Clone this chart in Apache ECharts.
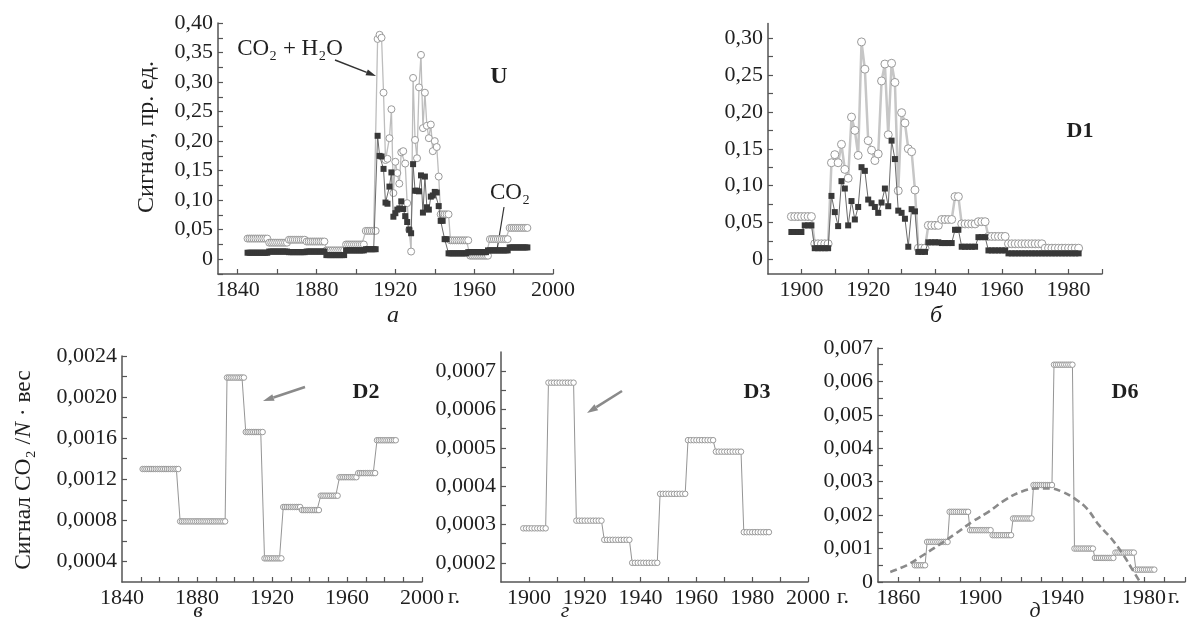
<!DOCTYPE html>
<html>
<head>
<meta charset="utf-8">
<script src="https://cdn.jsdelivr.net/npm/echarts@6/dist/echarts.min.js"></script>
<style>
  html, body { margin: 0; padding: 0; background: #fff; }
  #chart { width: 1199px; height: 626px; }
</style>
</head>
<body>
<div id="chart"></div>
<script>
// ---- panel a (U): CO2 + H2O (circles) and CO2 (squares), yearly from 1845
const uStart = 1845;
const uWet = [
  0.035, 0.035, 0.035, 0.035, 0.035, 0.035, 0.035, 0.035, 0.035, 0.035, 0.035,
  0.028, 0.028, 0.028, 0.028, 0.028, 0.028, 0.028, 0.028, 0.028, 0.028,
  0.033, 0.033, 0.033, 0.033, 0.033, 0.033, 0.033, 0.033, 0.033,
  0.030, 0.030, 0.030, 0.030, 0.030, 0.030, 0.030, 0.030, 0.030, 0.030,
  0.015, 0.015, 0.015, 0.015, 0.015, 0.015, 0.015, 0.015, 0.015, 0.015,
  0.025, 0.025, 0.025, 0.025, 0.025, 0.025, 0.025, 0.025, 0.025, 0.025,
  0.048, 0.048, 0.048, 0.048, 0.048, 0.048,
  0.373, 0.380, 0.375, 0.282, 0.168, 0.170, 0.205, 0.254, 0.112, 0.165,
  0.146, 0.128, 0.181, 0.183, 0.162, 0.095, 0.050, 0.013, 0.307, 0.202,
  0.171, 0.291, 0.346, 0.222, 0.282, 0.226, 0.205, 0.228, 0.183, 0.200,
  0.190, 0.140, 0.076,
  0.076, 0.076, 0.076, 0.076,
  0.032, 0.032, 0.032, 0.032, 0.032, 0.032, 0.032, 0.032, 0.032, 0.032,
  0.006, 0.006, 0.006, 0.006, 0.006, 0.006, 0.006, 0.006, 0.006, 0.006,
  0.034, 0.034, 0.034, 0.034, 0.034, 0.034, 0.034, 0.034, 0.034, 0.034,
  0.053, 0.053, 0.053, 0.053, 0.053, 0.053, 0.053, 0.053, 0.053, 0.053
];
const uDry = [
  0.011, 0.011, 0.011, 0.011, 0.011, 0.011, 0.011, 0.011, 0.011, 0.011, 0.011,
  0.013, 0.013, 0.013, 0.013, 0.013, 0.013, 0.013, 0.013, 0.013, 0.013,
  0.012, 0.012, 0.012, 0.012, 0.012, 0.012, 0.012, 0.012, 0.012,
  0.013, 0.013, 0.013, 0.013, 0.013, 0.013, 0.013, 0.013, 0.013, 0.013,
  0.007, 0.007, 0.007, 0.007, 0.007, 0.007, 0.007, 0.007, 0.007, 0.007,
  0.015, 0.015, 0.015, 0.015, 0.015, 0.015, 0.015, 0.015, 0.015, 0.015,
  0.017, 0.017, 0.017, 0.017, 0.017, 0.017,
  0.209, 0.175, 0.174, 0.153, 0.096, 0.094, 0.123, 0.147, 0.072, 0.078,
  0.084, 0.086, 0.098, 0.085, 0.073, 0.063, 0.050, 0.044, 0.161, 0.116,
  0.116, 0.115, 0.142, 0.079, 0.140, 0.088, 0.084, 0.106, 0.108, 0.114,
  0.113, 0.090, 0.065, 0.065, 0.034, 0.034,
  0.010, 0.010, 0.010, 0.010, 0.010, 0.010, 0.010, 0.010, 0.010, 0.010,
  0.012, 0.012, 0.012, 0.012, 0.012, 0.012, 0.012, 0.012, 0.012, 0.012,
  0.015, 0.015, 0.015, 0.015, 0.015, 0.015, 0.015, 0.015, 0.015, 0.015, 0.015,
  0.020, 0.020, 0.020, 0.020, 0.020, 0.020, 0.020, 0.020, 0.020, 0.020
];

// ---- panel б (D1), yearly from 1897
const d1Start = 1897;
const d1Wet = [
  0.058, 0.058, 0.058, 0.058, 0.058, 0.058, 0.058,
  0.021, 0.021, 0.021, 0.021, 0.021,
  0.131, 0.142, 0.131, 0.156, 0.122, 0.110, 0.193, 0.175, 0.141, 0.295,
  0.258, 0.161, 0.148, 0.134, 0.143, 0.242, 0.265, 0.169, 0.266, 0.240,
  0.093, 0.199, 0.185, 0.150, 0.146, 0.094,
  0.015, 0.015, 0.015,
  0.046, 0.046, 0.046, 0.046,
  0.054, 0.054, 0.054, 0.054,
  0.085, 0.085,
  0.048, 0.048, 0.048, 0.048, 0.048,
  0.051, 0.051, 0.051,
  0.031, 0.031, 0.031, 0.031, 0.031, 0.031,
  0.021, 0.021, 0.021, 0.021, 0.021, 0.021, 0.021, 0.021, 0.021, 0.021, 0.021,
  0.015, 0.015, 0.015, 0.015, 0.015, 0.015, 0.015, 0.015, 0.015, 0.015, 0.015
];
const d1Dry = [
  0.037, 0.037, 0.037, 0.037,
  0.046, 0.046, 0.046,
  0.015, 0.015, 0.015, 0.015, 0.015,
  0.086, 0.064, 0.045, 0.106, 0.096, 0.046, 0.079, 0.054, 0.071, 0.125,
  0.120, 0.081, 0.076, 0.071, 0.063, 0.077, 0.096, 0.072, 0.161, 0.136,
  0.066, 0.063, 0.055, 0.017, 0.068, 0.065,
  0.010, 0.010, 0.010,
  0.023, 0.023, 0.023, 0.023,
  0.022, 0.022, 0.022, 0.022,
  0.040, 0.040,
  0.017, 0.017, 0.017, 0.017, 0.017,
  0.030, 0.030, 0.030,
  0.012, 0.012, 0.012, 0.012, 0.012, 0.012,
  0.008, 0.008, 0.008, 0.008, 0.008, 0.008, 0.008, 0.008, 0.008, 0.008, 0.008,
  0.008, 0.008, 0.008, 0.008, 0.008, 0.008, 0.008, 0.008, 0.008, 0.008, 0.008
];

// ---- panel в (D2), yearly from 1851
const d2Start = 1851;
const d2Vals = [
  0.0013, 0.0013, 0.0013, 0.0013, 0.0013, 0.0013, 0.0013, 0.0013, 0.0013, 0.0013,
  0.0013, 0.0013, 0.0013, 0.0013, 0.0013, 0.0013, 0.0013, 0.0013, 0.0013, 0.0013,
  0.00079, 0.00079, 0.00079, 0.00079, 0.00079, 0.00079, 0.00079, 0.00079, 0.00079, 0.00079,
  0.00079, 0.00079, 0.00079, 0.00079, 0.00079, 0.00079, 0.00079, 0.00079, 0.00079, 0.00079,
  0.00079, 0.00079, 0.00079, 0.00079, 0.00079,
  0.00219, 0.00219, 0.00219, 0.00219, 0.00219, 0.00219, 0.00219, 0.00219, 0.00219, 0.00219,
  0.00166, 0.00166, 0.00166, 0.00166, 0.00166, 0.00166, 0.00166, 0.00166, 0.00166, 0.00166,
  0.00043, 0.00043, 0.00043, 0.00043, 0.00043, 0.00043, 0.00043, 0.00043, 0.00043, 0.00043,
  0.00093, 0.00093, 0.00093, 0.00093, 0.00093, 0.00093, 0.00093, 0.00093, 0.00093, 0.00093,
  0.0009, 0.0009, 0.0009, 0.0009, 0.0009, 0.0009, 0.0009, 0.0009, 0.0009, 0.0009,
  0.00104, 0.00104, 0.00104, 0.00104, 0.00104, 0.00104, 0.00104, 0.00104, 0.00104, 0.00104,
  0.00122, 0.00122, 0.00122, 0.00122, 0.00122, 0.00122, 0.00122, 0.00122, 0.00122, 0.00122,
  0.00126, 0.00126, 0.00126, 0.00126, 0.00126, 0.00126, 0.00126, 0.00126, 0.00126, 0.00126,
  0.00158, 0.00158, 0.00158, 0.00158, 0.00158, 0.00158, 0.00158, 0.00158, 0.00158, 0.00158, 0.00158
];

// ---- panel г (D3), yearly from 1898
const d3Start = 1898;
const d3Vals = [
  0.00029, 0.00029, 0.00029, 0.00029, 0.00029, 0.00029, 0.00029, 0.00029, 0.00029,
  0.00067, 0.00067, 0.00067, 0.00067, 0.00067, 0.00067, 0.00067, 0.00067, 0.00067, 0.00067,
  0.00031, 0.00031, 0.00031, 0.00031, 0.00031, 0.00031, 0.00031, 0.00031, 0.00031, 0.00031,
  0.00026, 0.00026, 0.00026, 0.00026, 0.00026, 0.00026, 0.00026, 0.00026, 0.00026, 0.00026,
  0.0002, 0.0002, 0.0002, 0.0002, 0.0002, 0.0002, 0.0002, 0.0002, 0.0002, 0.0002,
  0.00038, 0.00038, 0.00038, 0.00038, 0.00038, 0.00038, 0.00038, 0.00038, 0.00038, 0.00038,
  0.00052, 0.00052, 0.00052, 0.00052, 0.00052, 0.00052, 0.00052, 0.00052, 0.00052, 0.00052,
  0.00049, 0.00049, 0.00049, 0.00049, 0.00049, 0.00049, 0.00049, 0.00049, 0.00049, 0.00049,
  0.00028, 0.00028, 0.00028, 0.00028, 0.00028, 0.00028, 0.00028, 0.00028, 0.00028, 0.00028
];

// ---- panel д (D6), yearly from 1868, plus the dashed trend
const d6Start = 1868;
const d6Vals = [
  0.0005, 0.0005, 0.0005, 0.0005, 0.0005, 0.0005,
  0.0012, 0.0012, 0.0012, 0.0012, 0.0012, 0.0012, 0.0012, 0.0012, 0.0012, 0.0012, 0.0012,
  0.0021, 0.0021, 0.0021, 0.0021, 0.0021, 0.0021, 0.0021, 0.0021, 0.0021, 0.0021,
  0.00155, 0.00155, 0.00155, 0.00155, 0.00155, 0.00155, 0.00155, 0.00155, 0.00155, 0.00155, 0.00155,
  0.0014, 0.0014, 0.0014, 0.0014, 0.0014, 0.0014, 0.0014, 0.0014, 0.0014, 0.0014,
  0.0019, 0.0019, 0.0019, 0.0019, 0.0019, 0.0019, 0.0019, 0.0019, 0.0019, 0.0019,
  0.0029, 0.0029, 0.0029, 0.0029, 0.0029, 0.0029, 0.0029, 0.0029, 0.0029, 0.0029,
  0.0065, 0.0065, 0.0065, 0.0065, 0.0065, 0.0065, 0.0065, 0.0065, 0.0065, 0.0065,
  0.001, 0.001, 0.001, 0.001, 0.001, 0.001, 0.001, 0.001, 0.001, 0.001,
  0.00072, 0.00072, 0.00072, 0.00072, 0.00072, 0.00072, 0.00072, 0.00072, 0.00072, 0.00072,
  0.00088, 0.00088, 0.00088, 0.00088, 0.00088, 0.00088, 0.00088, 0.00088, 0.00088, 0.00088,
  0.00037, 0.00037, 0.00037, 0.00037, 0.00037, 0.00037, 0.00037, 0.00037, 0.00037, 0.00037
];
const d6TrendYears = [1856, 1864, 1872, 1880, 1888, 1896, 1904, 1912, 1920, 1928, 1934, 1940, 1946, 1952, 1958, 1964, 1970, 1974, 1978];
const d6TrendVals = [0.0003, 0.0005, 0.0008, 0.00112, 0.00145, 0.0018, 0.0021, 0.00245, 0.0027, 0.0028, 0.0028, 0.0027, 0.0025, 0.0022, 0.0017, 0.0013, 0.0008, 0.0004, 0.0];

// ---- tick positions and labels
const aXTicks = [1840, 1860, 1880, 1900, 1920, 1940, 1960, 1980, 2000];
const aXLabels = [1840, 1880, 1920, 1960, 2000];
const aYTicks = [-0.025, 0, 0.025, 0.05, 0.075, 0.1, 0.125, 0.15, 0.175, 0.2, 0.225, 0.25, 0.275, 0.3, 0.325, 0.35, 0.375, 0.4];
const aYLabels = [0, 0.05, 0.1, 0.15, 0.2, 0.25, 0.3, 0.35, 0.4];
const bXTicks = [1900, 1910, 1920, 1930, 1940, 1950, 1960, 1970, 1980, 1990];
const bXLabels = [1900, 1920, 1940, 1960, 1980];
const bYTicks = [0, 0.025, 0.05, 0.075, 0.1, 0.125, 0.15, 0.175, 0.2, 0.225, 0.25, 0.275, 0.3];
const bYLabels = [0, 0.05, 0.1, 0.15, 0.2, 0.25, 0.3];
const cXTicks = [1850, 1860, 1870, 1880, 1890, 1900, 1910, 1920, 1930, 1940, 1950, 1960, 1970, 1980, 1990, 2000];
const cXLabels = [1840, 1880, 1920, 1960, 2000];
const cYTicks = [0.0004, 0.0006, 0.0008, 0.001, 0.0012, 0.0014, 0.0016, 0.0018, 0.002, 0.0022, 0.0024];
const cYLabels = [0.0004, 0.0008, 0.0012, 0.0016, 0.002, 0.0024];
const dXTicks = [1900, 1910, 1920, 1930, 1940, 1950, 1960, 1970, 1980, 1990, 2000];
const dXLabels = [1900, 1920, 1940, 1960, 1980, 2000];
const dYTicks = [0.0002, 0.00025, 0.0003, 0.00035, 0.0004, 0.00045, 0.0005, 0.00055, 0.0006, 0.00065, 0.0007];
const dYLabels = [0.0002, 0.0003, 0.0004, 0.0005, 0.0006, 0.0007];
const eXTicks = [1860, 1870, 1880, 1890, 1900, 1910, 1920, 1930, 1940, 1950, 1960, 1970, 1980, 1990, 2000];
const eXLabels = [1860, 1900, 1940, 1980];
const eYTicks = [0, 0.0005, 0.001, 0.0015, 0.002, 0.0025, 0.003, 0.0035, 0.004, 0.0045, 0.005, 0.0055, 0.006, 0.0065, 0.007];
const eYLabels = [0, 0.001, 0.002, 0.003, 0.004, 0.005, 0.006, 0.007];

const FONT = "'Liberation Serif', 'DejaVu Serif', serif";
const INK = '#1f1f1f';
const AXIS = '#555555';

function pairs(start, vals) {
  return vals.map((v, i) => [start + i, v]);
}

function comma(digits) {
  return v => (v === 0 ? '0' : v.toFixed(digits).replace('.', ','));
}

function xAxisOf(idx, min, max, ticks, labels) {
  return {
    type: 'value', gridIndex: idx, min: min, max: max,
    axisLine: { show: true, onZero: false, lineStyle: { color: AXIS, width: 1.5 } },
    axisTick: { show: true, inside: true, length: 5, customValues: ticks, lineStyle: { color: AXIS, width: 1.2 } },
    axisLabel: { customValues: labels, formatter: v => String(v), fontFamily: FONT, fontSize: 22, color: INK, margin: 5 },
    splitLine: { show: false }
  };
}

function yAxisOf(idx, min, max, ticks, labels, digits) {
  return {
    type: 'value', gridIndex: idx, min: min, max: max,
    axisLine: { show: true, onZero: false, lineStyle: { color: AXIS, width: 1.5 } },
    axisTick: { show: true, inside: true, length: 5, customValues: ticks, lineStyle: { color: AXIS, width: 1.2 } },
    axisLabel: { customValues: labels, formatter: comma(digits), fontFamily: FONT, fontSize: 22, color: INK, margin: 5 },
    splitLine: { show: false }
  };
}

function circles(idx, data, size, lineColor, lineWidth) {
  return {
    type: 'line', xAxisIndex: idx, yAxisIndex: idx, data: data,
    symbol: 'circle', symbolSize: size, showSymbol: true, z: 2,
    itemStyle: { color: '#ffffff', borderColor: '#9a9a9a', borderWidth: 1 },
    lineStyle: { color: lineColor, width: lineWidth }
  };
}

function squares(idx, data) {
  return {
    type: 'line', xAxisIndex: idx, yAxisIndex: idx, data: data,
    symbol: 'rect', symbolSize: 6, showSymbol: true, z: 3,
    itemStyle: { color: '#383838' },
    lineStyle: { color: '#6a6a6a', width: 1 }
  };
}

function arrow(x1, y1, x2, y2, color, width, head) {
  const ang = Math.atan2(y2 - y1, x2 - x1);
  const hx = x2 - head * Math.cos(ang);
  const hy = y2 - head * Math.sin(ang);
  const px = Math.sin(ang) * head * 0.32;
  const py = -Math.cos(ang) * head * 0.32;
  return [
    { type: 'line', shape: { x1: x1, y1: y1, x2: hx, y2: hy }, style: { stroke: color, lineWidth: width } },
    { type: 'polygon', shape: { points: [[x2, y2], [hx + px, hy + py], [hx - px, hy - py]] }, style: { fill: color } }
  ];
}

function label(text, x, y, opts) {
  return {
    type: 'text', x: x, y: y, rotation: (opts && opts.rotation) || 0,
    style: Object.assign({
      text: text, fill: INK, font: '22px ' + FONT,
      textAlign: 'center', textVerticalAlign: 'middle'
    }, (opts && opts.style) || {})
  };
}

const chart = echarts.init(document.getElementById('chart'));
chart.setOption({
  backgroundColor: '#ffffff',
  animation: false,
  grid: [
    { left: 218, top: 23, width: 335, height: 251 },
    { left: 768, top: 23.5, width: 334, height: 250.5 },
    { left: 122, top: 356, width: 300, height: 226 },
    { left: 501, top: 352, width: 307, height: 230 },
    { left: 878, top: 348, width: 307, height: 234 }
  ],
  xAxis: [
    xAxisOf(0, 1830, 2000, aXTicks, aXLabels),
    xAxisOf(1, 1890, 1990, bXTicks, bXLabels),
    xAxisOf(2, 1840, 2000, cXTicks, cXLabels),
    xAxisOf(3, 1890, 2000, dXTicks, dXLabels),
    xAxisOf(4, 1850, 2000, eXTicks, eXLabels)
  ],
  yAxis: [
    yAxisOf(0, -0.025, 0.4, aYTicks, aYLabels, 2),
    yAxisOf(1, -0.02, 0.32, bYTicks, bYLabels, 2),
    yAxisOf(2, 0.0002, 0.0024, cYTicks, cYLabels, 4),
    yAxisOf(3, 0.00015, 0.00075, dYTicks, dYLabels, 4),
    yAxisOf(4, 0, 0.007, eYTicks, eYLabels, 3)
  ],
  series: [
    circles(0, pairs(uStart, uWet), 7, '#bdbdbd', 1.3),
    squares(0, pairs(uStart, uDry)),
    circles(1, pairs(d1Start, d1Wet), 8, '#c6c6c6', 2.5),
    squares(1, pairs(d1Start, d1Dry)),
    circles(2, pairs(d2Start, d2Vals), 5.5, '#7a7a7a', 0.8),
    circles(3, pairs(d3Start, d3Vals), 5.5, '#7a7a7a', 0.8),
    circles(4, pairs(d6Start, d6Vals), 5.5, '#7a7a7a', 0.8),
    {
      type: 'line', xAxisIndex: 4, yAxisIndex: 4, smooth: 0.4, symbol: 'none', z: 4,
      data: d6TrendYears.map((y, i) => [y, d6TrendVals[i]]),
      lineStyle: { color: '#8a8a8a', width: 2.6, type: [7, 4] }
    }
  ],
  graphic: [].concat(
    [
      label('Сигнал, пр. ед.', 147, 137, { rotation: Math.PI / 2, style: { font: '24px ' + FONT } }),
      {
        type: 'text', x: 24, y: 470, rotation: Math.PI / 2,
        style: {
          text: '{a|Сигнал CO₂ /}{i|N}{a| · вес}',
          textAlign: 'center', textVerticalAlign: 'middle',
          rich: {
            a: { fontFamily: FONT, fontSize: 23.5, fill: INK },
            i: { fontFamily: FONT, fontSize: 23.5, fontStyle: 'italic', fill: INK }
          }
        }
      },
      label('CO₂ + H₂O', 290, 49, { style: { font: '23px ' + FONT } }),
      label('U', 499, 77, { style: { font: 'bold 24px ' + FONT } }),
      label('CO₂', 510, 193, { style: { font: '23px ' + FONT } }),
      label('D1', 1080, 131, { style: { font: 'bold 22px ' + FONT } }),
      label('D2', 366, 392, { style: { font: 'bold 22px ' + FONT } }),
      label('D3', 757, 392, { style: { font: 'bold 22px ' + FONT } }),
      label('D6', 1125, 392, { style: { font: 'bold 22px ' + FONT } }),
      label('a', 393, 316, { style: { font: 'italic 24px ' + FONT } }),
      label('б', 936, 316, { style: { font: 'italic 24px ' + FONT } }),
      label('в', 198, 611, { style: { font: 'italic 22px ' + FONT } }),
      label('г', 565, 611, { style: { font: 'italic 22px ' + FONT } }),
      label('д', 1035, 611, { style: { font: 'italic 22px ' + FONT } }),
      label('г.', 448, 597, { style: { textAlign: 'left' } }),
      label('г.', 837, 597, { style: { textAlign: 'left' } }),
      label('г.', 1168, 597, { style: { textAlign: 'left' } }),
      { type: 'line', shape: { x1: 504, y1: 207, x2: 497, y2: 250 }, style: { stroke: '#333', lineWidth: 1.2 } }
    ],
    arrow(335, 60, 376, 76, '#333333', 1.5, 10),
    arrow(305, 387, 263, 401, '#8a8a8a', 2.6, 11),
    arrow(622, 391, 587, 413, '#8a8a8a', 2.6, 11)
  )
});
</script>
</body>
</html>
